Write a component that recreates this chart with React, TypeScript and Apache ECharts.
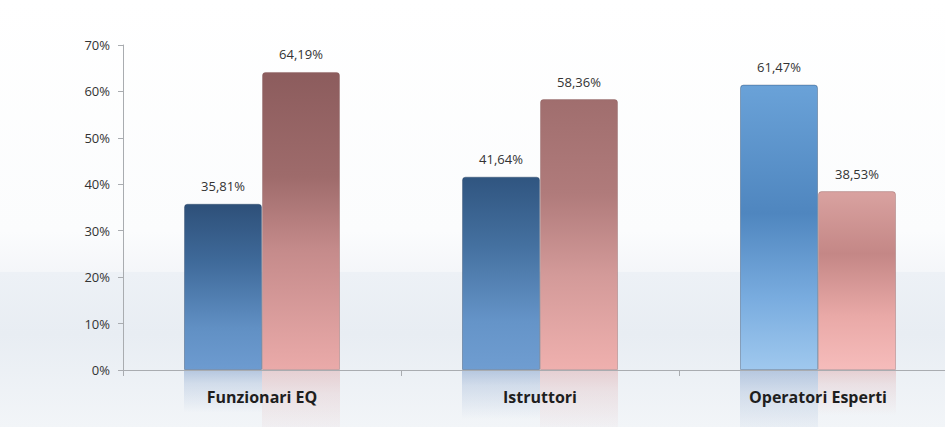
import React, { useEffect, useRef } from "react";
import * as echarts from "echarts";

const categories = ["Funzionari EQ", "Istruttori", "Operatori Esperti"];
const blueValues = [35.81, 41.64, 61.47];
const pinkValues = [64.19, 58.36, 38.53];
const yTicks = [0, 10, 20, 30, 40, 50, 60, 70];

const FONT = "'Open Sans', 'Liberation Sans', sans-serif";

const vgrad = (stops: [number, string][]) =>
  new echarts.graphic.LinearGradient(0, 0, 0, 1, stops.map(([offset, color]) => ({ offset, color })));

const blueStyles = [
  vgrad([[0, "#2e5079"], [0.35, "#3f6a9a"], [0.75, "#6190c4"], [1, "#6d9bd0"]]),
  vgrad([[0, "#305580"], [0.35, "#44709f"], [0.75, "#6594c8"], [1, "#6f9dd1"]]),
  vgrad([[0, "#6aa2d8"], [0.45, "#4f86bf"], [0.75, "#79acdf"], [1, "#9fc8ee"]]),
];
const pinkStyles = [
  vgrad([[0, "#8c5c5d"], [0.35, "#9e6b6b"], [0.6, "#c58b8b"], [1, "#eaaaa9"]]),
  vgrad([[0, "#a06e6e"], [0.35, "#b07b7b"], [0.65, "#d39a99"], [1, "#efb0ae"]]),
  vgrad([[0, "#d9a2a0"], [0.35, "#c48786"], [0.7, "#e9a9a7"], [1, "#f6bcbb"]]),
];

const fmt = (v: number) => v.toFixed(2).replace(".", ",") + "%";

export default function App() {
  const ref = useRef<HTMLDivElement>(null);
  useEffect(() => {
    if (!ref.current) return;
    const chart = echarts.init(ref.current, null, { renderer: "svg" });
    const reflectBlue = vgrad([[0, "rgba(110,145,195,0.42)"], [0.3, "rgba(110,145,195,0.22)"], [1, "rgba(110,145,195,0)"]]);
    const reflectPink = vgrad([[0, "rgba(220,155,155,0.38)"], [0.3, "rgba(220,155,155,0.2)"], [1, "rgba(220,155,155,0)"]]);
    const valueLabel = {
      show: true,
      position: "top",
      distance: 11,
      color: "#333333",
      fontFamily: FONT,
      fontSize: 13,
      formatter: (p: any) => fmt(p.value),
    };
    chart.setOption({
      animation: false,
      backgroundColor: "#ffffff",
      graphic: [
        {
          type: "rect",
          z: -10,
          silent: true,
          shape: { x: 0, y: 272, width: 960, height: 155 },
          style: { fill: vgrad([[0, "#edf1f6"], [0.4, "#e8edf3"], [1, "#f2f5f8"]]) },
        },
        {
          type: "rect",
          z: -9,
          silent: true,
          shape: { x: 0, y: 0, width: 960, height: 272 },
          style: { fill: vgrad([[0, "#ffffff"], [0.85, "#fbfcfd"], [1, "#f4f6f9"]]) },
        },
      ],
      grid: [
        { left: 123, top: 45, width: 834, height: 325 },
        { left: 123, top: 371, width: 834, height: 325 },
      ],
      xAxis: [
        {
          type: "category",
          gridIndex: 0,
          data: categories,
          z: 5,
          axisLine: { lineStyle: { color: "#a9acb0", width: 1 } },
          axisTick: { show: true, length: 6, lineStyle: { color: "#a9acb0" } },
          axisLabel: {
            color: "#1e1e1e",
            fontFamily: FONT,
            fontWeight: "bold",
            fontSize: 16,
            margin: 19,
          },
        },
        {
          type: "category",
          gridIndex: 1,
          data: categories,
          show: false,
        },
      ],
      yAxis: [
        {
          type: "value",
          gridIndex: 0,
          min: 0,
          max: 70,
          interval: 10,
          splitLine: { show: false },
          axisLine: { show: true, lineStyle: { color: "#a9acb0" } },
          axisTick: { show: true, length: 5, lineStyle: { color: "#a9acb0" } },
          axisLabel: {
            color: "#333333",
            fontFamily: FONT,
            fontSize: 13,
            margin: 13,
            formatter: (v: number) => (yTicks.includes(v) ? v + "%" : ""),
          },
        },
        {
          type: "value",
          gridIndex: 1,
          min: 0,
          max: 70,
          inverse: true,
          show: false,
          splitLine: { show: false },
        },
      ],
      series: [
        {
          type: "bar",
          xAxisIndex: 0,
          yAxisIndex: 0,
          barWidth: 78,
          barGap: "0%",
          data: blueValues.map((v, i) => ({
            value: v,
            itemStyle: { color: blueStyles[i], borderColor: "rgba(30,55,90,0.35)", borderWidth: 1, borderRadius: [3, 3, 0, 0] },
          })),
          label: valueLabel,
        },
        {
          type: "bar",
          xAxisIndex: 0,
          yAxisIndex: 0,
          barWidth: 78,
          barGap: "0%",
          data: pinkValues.map((v, i) => ({
            value: v,
            itemStyle: { color: pinkStyles[i], borderColor: "rgba(120,70,70,0.3)", borderWidth: 1, borderRadius: [3, 3, 0, 0] },
          })),
          label: valueLabel,
        },
        {
          type: "bar",
          xAxisIndex: 1,
          yAxisIndex: 1,
          barWidth: 78,
          barGap: "0%",
          silent: true,
          z: 1,
          data: blueValues,
          itemStyle: { color: reflectBlue },
        },
        {
          type: "bar",
          xAxisIndex: 1,
          yAxisIndex: 1,
          barWidth: 78,
          barGap: "0%",
          silent: true,
          z: 1,
          data: pinkValues,
          itemStyle: { color: reflectPink },
        },
      ],
    });
    return () => chart.dispose();
  }, []);
  return <div ref={ref} style={{ position: "fixed", left: 0, top: 0, width: 960, height: 427 }} />;
}
